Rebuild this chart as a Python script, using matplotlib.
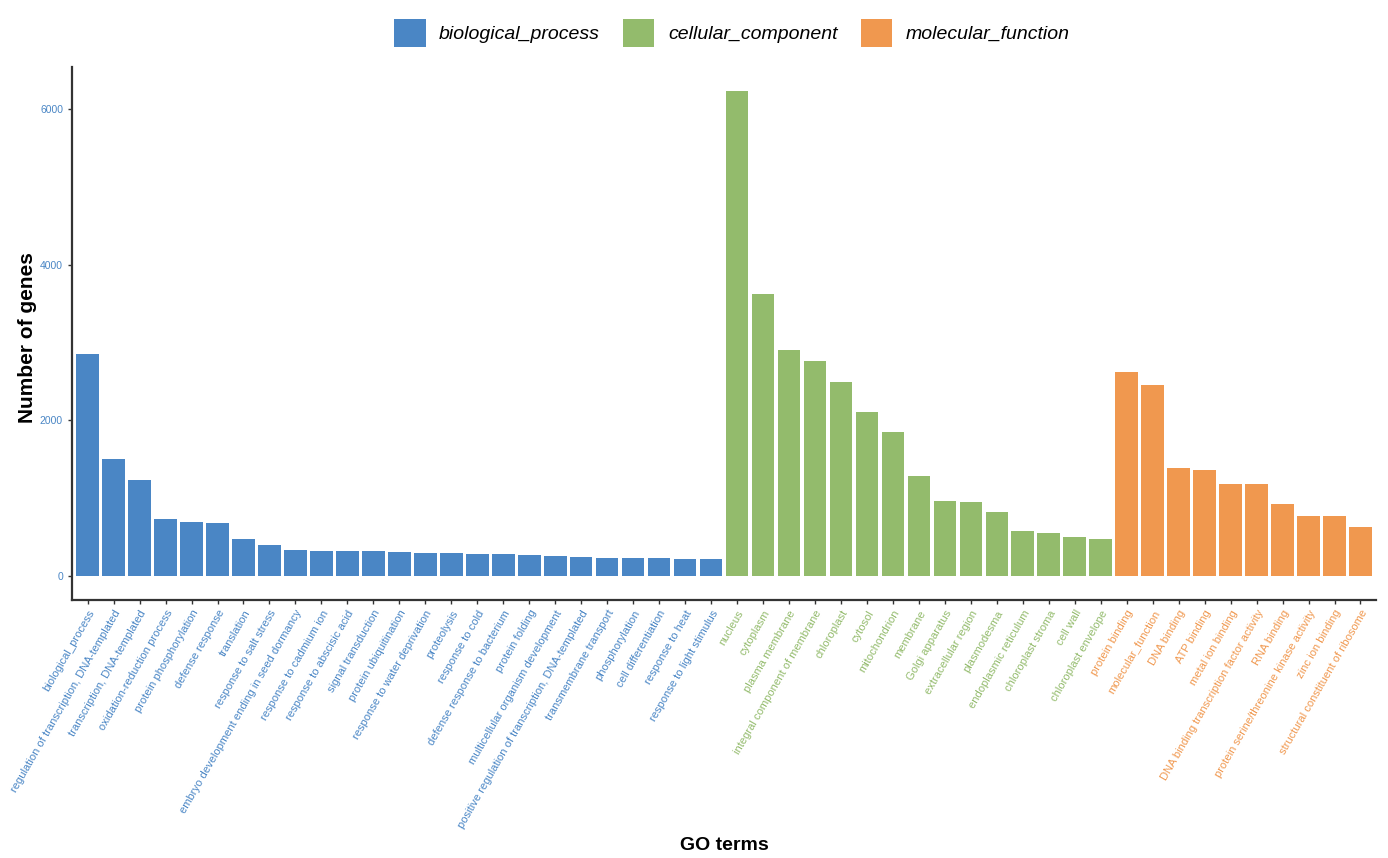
import numpy as np
import matplotlib.pyplot as plt
from matplotlib.patches import Patch

plt.rcParams['font.family'] = ['Liberation Sans', 'DejaVu Sans']

# GO terms and gene counts per category
bp_terms = ["biological_process", "regulation of transcription, DNA-templated",
            "transcription, DNA-templated", "oxidation-reduction process",
            "protein phosphorylation", "defense response", "translation",
            "response to salt stress", "embryo development ending in seed dormancy",
            "response to cadmium ion", "response to abscisic acid", "signal transduction",
            "protein ubiquitination", "response to water deprivation", "proteolysis",
            "response to cold", "defense response to bacterium", "protein folding",
            "multicellular organism development",
            "positive regulation of transcription, DNA-templated",
            "transmembrane transport", "phosphorylation", "cell differentiation",
            "response to heat", "response to light stimulus"]
bp_counts = [2850, 1500, 1228, 727, 697, 676, 479, 402, 329, 321, 320, 312, 300,
             291, 287, 282, 278, 270, 252, 240, 231, 227, 222, 218, 210]

cc_terms = ["nucleus", "cytoplasm", "plasma membrane", "integral component of membrane",
            "chloroplast", "cytosol", "mitochondrion", "membrane", "Golgi apparatus",
            "extracellular region", "plasmodesma", "endoplasmic reticulum",
            "chloroplast stroma", "cell wall", "chloroplast envelope"]
cc_counts = [6233, 3628, 2905, 2764, 2494, 2109, 1848, 1283, 967, 950, 817, 578,
             548, 496, 475]

mf_terms = ["protein binding", "molecular_function", "DNA binding", "ATP binding",
            "metal ion binding", "DNA binding transcription factor activity",
            "RNA binding", "protein serine/threonine kinase activity",
            "zinc ion binding", "structural constituent of ribosome"]
mf_counts = [2618, 2460, 1386, 1356, 1176, 1176, 920, 770, 770, 629]

groups = ["biological_process", "cellular_component", "molecular_function"]
colors = ["#4A86C5", "#93BB6C", "#F0984F"]

terms = bp_terms + cc_terms + mf_terms
counts = bp_counts + cc_counts + mf_counts
bar_colors = ([colors[0]] * len(bp_terms) + [colors[1]] * len(cc_terms)
              + [colors[2]] * len(mf_terms))
x = np.arange(len(terms))

fig = plt.figure(figsize=(13.88, 8.58), dpi=100)
ax = fig.add_axes([0.0519, 0.3007, 0.9395, 0.6212])

ax.bar(x, counts, width=0.87, color=bar_colors, edgecolor='none')

ax.set_xlim(-0.6, len(terms) - 0.4)
ax.set_ylim(-312, 6545)
ax.set_yticks([0, 2000, 4000, 6000])
ax.set_xticks(x)
ax.set_xticklabels(terms, rotation=60, ha='right', rotation_mode='anchor', fontsize=8)
for lbl, c in zip(ax.get_xticklabels(), bar_colors):
    lbl.set_color(c)
ax.tick_params(axis='y', labelsize=7.5, length=3, width=1, colors='#333333')
for lbl in ax.get_yticklabels():
    lbl.set_color(colors[0])
ax.tick_params(axis='x', length=3, width=1, color='#333333', pad=3)

for s in ['top', 'right']:
    ax.spines[s].set_visible(False)
for s in ['left', 'bottom']:
    ax.spines[s].set_linewidth(1.6)
    ax.spines[s].set_color('#333333')

fig.text(0.02, 1 - 338 / 858, "Number of genes", rotation=90, fontsize=15,
         fontweight='bold', ha='center', va='center')
fig.text(724 / 1388, 1 - 845 / 858, "GO terms", fontsize=14, fontweight='bold',
         ha='center', va='center')

handles = [Patch(facecolor=c, edgecolor='none') for c in colors]
leg = fig.legend(handles, groups, loc='center', bbox_to_anchor=(732 / 1388, 1 - 33 / 858),
                 ncol=3, frameon=False, prop={'style': 'italic', 'size': 14},
                 handlelength=1.6, handleheight=1.8, columnspacing=1.2, handletextpad=0.7)

fig.savefig("out.png", dpi=100)
